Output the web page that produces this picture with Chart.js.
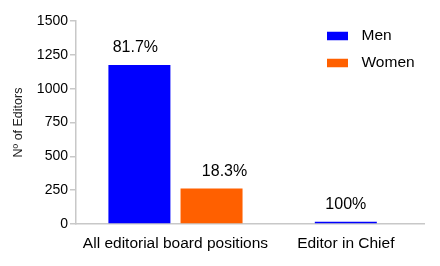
<!DOCTYPE html>
<html>
<head>
<meta charset="utf-8">
<script src="https://cdn.jsdelivr.net/npm/chart.js@4"></script>
<style>
html, body { margin: 0; padding: 0; background: #ffffff; }
#wrap { width: 440px; height: 266px; }
</style>
</head>
<body>
<div id="wrap"><canvas id="c" width="440" height="266"></canvas></div>
<script>
// ---- data ----
const categories = ["All editorial board positions", "Editor in Chief"];
const seriesNames = ["Men", "Women"];
const menValues = [1175, 17];
const womenValues = [263, null];
const menPctLabels = ["81.7%", "100%"];
const womenPctLabels = ["18.3%", null];
const yTickValues = [0, 250, 500, 750, 1000, 1250, 1500];
const yAxisTitle = "Nº of Editors";

// ---- styles ----
const FONT = "'Liberation Sans', Arial, Helvetica, sans-serif";
const AXIS_COLOR = "#c8c8c8";
const colors = ["#0000ff", "#ff6000"];

const toPoints = (vals) => vals.map((v, i) => ({ x: i + 1, y: v }));

const barLabelPlugin = {
  id: "barLabels",
  afterDatasetsDraw(chart, args, opts) {
    const ctx = chart.ctx;
    ctx.save();
    ctx.font = opts.fontSize + "px " + FONT;
    ctx.fillStyle = "#000";
    ctx.textAlign = "center";
    ctx.textBaseline = "alphabetic";
    opts.labels.forEach((labels, di) => {
      const meta = chart.getDatasetMeta(di);
      labels.forEach((txt, i) => {
        if (txt == null) return;
        const el = meta.data[i];
        if (!el) return;
        const dx = (opts.shift[di] && opts.shift[di][i]) || 0;
        ctx.fillText(txt, el.x + dx, el.y - opts.gap);
      });
    });
    ctx.restore();
  }
};

const customLegendPlugin = {
  id: "customLegend",
  afterDraw(chart, args, opts) {
    const ctx = chart.ctx;
    ctx.save();
    ctx.font = opts.fontSize + "px " + FONT;
    ctx.textAlign = "left";
    ctx.textBaseline = "middle";
    chart.data.datasets.forEach((ds, i) => {
      const cy = opts.y + i * opts.rowGap;
      ctx.fillStyle = ds.backgroundColor;
      ctx.fillRect(opts.x, cy - opts.boxH / 2, opts.boxW, opts.boxH);
      ctx.fillStyle = "#000";
      ctx.fillText(ds.label, opts.x + opts.boxW + opts.textGap, cy);
    });
    ctx.restore();
  }
};

new Chart(document.getElementById("c"), {
  type: "bar",
  data: {
    datasets: [
      { label: seriesNames[0], data: toPoints(menValues), backgroundColor: colors[0] },
      { label: seriesNames[1], data: toPoints(womenValues), backgroundColor: colors[1] }
    ]
  },
  options: {
    responsive: false,
    animation: false,
    devicePixelRatio: 1,
    layout: { padding: { top: 21, right: 16, left: 0, bottom: 0 } },
    datasets: {
      bar: {
        skipNull: true,
        categoryPercentage: 0.847,
        barPercentage: 0.86,
        maxBarThickness: 62
      }
    },
    scales: {
      x: {
        type: "linear",
        offset: false,
        min: 0.416,
        max: 2.459,
        afterBuildTicks: (s) => { s.ticks = categories.map((c, i) => ({ value: i + 1 })); },
        afterFit: (s) => { s.height = 42; },
        grid: { display: false, drawTicks: false, offset: false },
        border: { display: true, color: AXIS_COLOR, width: 1.5 },
        ticks: {
          autoSkip: false,
          maxRotation: 0,
          padding: 10,
          color: "#000",
          font: { family: FONT, size: 15.5 },
          callback: (v) => categories[Math.round(v) - 1] || ""
        }
      },
      y: {
        min: 0,
        max: 1500,
        afterBuildTicks: (s) => { s.ticks = yTickValues.map(v => ({ value: v })); },
        afterFit: (s) => { s.width = 76; },
        grid: { drawOnChartArea: false, drawTicks: true, tickLength: 6, color: AXIS_COLOR, lineWidth: 1.5 },
        border: { display: true, color: AXIS_COLOR, width: 1.5 },
        ticks: {
          padding: 2,
          color: "#000",
          font: { family: FONT, size: 14 },
          callback: (v) => String(v)
        },
        title: {
          display: true,
          text: yAxisTitle,
          color: "#222",
          font: { family: FONT, size: 12.5 },
          padding: { top: 11, bottom: 0 }
        }
      }
    },
    plugins: {
      legend: { display: false },
      tooltip: { enabled: false },
      barLabels: {
        labels: [menPctLabels, womenPctLabels],
        fontSize: 16,
        gap: 12.5,
        shift: [[-4, 0], [13, 0]]
      },
      customLegend: {
        x: 327, y: 36, rowGap: 27, boxW: 21, boxH: 8.5, textGap: 13.5, fontSize: 15.5
      }
    }
  },
  plugins: [barLabelPlugin, customLegendPlugin]
});
</script>
</body>
</html>
